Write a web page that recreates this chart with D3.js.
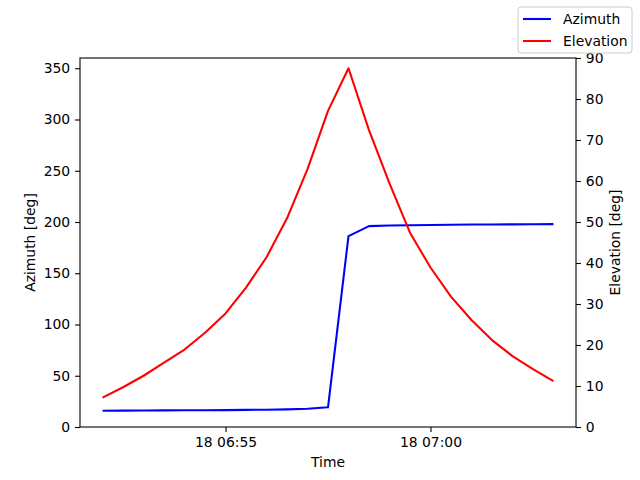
<!DOCTYPE html>
<html>
<head>
<meta charset="utf-8">
<script src="https://cdn.jsdelivr.net/npm/d3@7"></script>
<style>
  body { margin: 0; background: #fff; }
  text { font-family: "DejaVu Sans", sans-serif; }
</style>
</head>
<body>
<div id="chart"></div>
<script>
// pass over the station, one sample every 30 s
const times = ["06:52:00","06:52:30","06:53:00","06:53:30","06:54:00","06:54:30","06:55:00","06:55:30",
  "06:56:00","06:56:30","06:57:00","06:57:30","06:58:00","06:58:30","06:59:00","06:59:30",
  "07:00:00","07:00:30","07:01:00","07:01:30","07:02:00","07:02:30","07:03:00"];
const azimuth = [15.9,16.0,16.1,16.2,16.3,16.4,16.5,16.7,16.9,17.2,17.8,19.2,
  186.2,196.0,196.6,196.9,197.1,197.3,197.5,197.6,197.7,197.8,197.9];
const elevation = [7.15,9.7,12.5,15.7,18.9,23.0,27.7,34.0,41.4,50.9,62.9,77.1,
  87.5,72.4,59.4,47.4,38.9,31.8,26.1,21.2,17.3,14.1,11.2];
const azTicks = [0,50,100,150,200,250,300,350];
const elTicks = [0,10,20,30,40,50,60,70,80,90];
const seriesNames = ["Azimuth","Elevation"];
const seriesColors = ["blue","red"];

const width = 640, height = 480;
const margin = {top: 58, right: 64, bottom: 53, left: 80};

const parse = d3.utcParse("%Y-%m-%d %H:%M:%S");
const dates = times.map(t => parse("2021-03-18 " + t));

const svg = d3.select("#chart").append("svg")
  .attr("width", width).attr("height", height)
  .attr("viewBox", [0, 0, width, height]);

// matplotlib style 5% margin on x
const span = dates[dates.length - 1] - dates[0];
const x = d3.scaleUtc()
  .domain([new Date(+dates[0] - span * 0.05), new Date(+dates[dates.length - 1] + span * 0.05)])
  .range([margin.left, width - margin.right]);

const yAz = d3.scaleLinear().domain([0, 360]).range([height - margin.bottom, margin.top]);
const yEl = d3.scaleLinear().domain([0, 90]).range([height - margin.bottom, margin.top]);

const fs = "13.9px";

function styleAxis(g) {
  g.select(".domain").remove();
  g.selectAll(".tick line").attr("stroke", "#000").attr("stroke-width", 1.1);
  g.selectAll(".tick text").attr("font-size", fs).attr("fill", "#000")
    .attr("font-family", "DejaVu Sans, sans-serif");
}

svg.append("g")
  .attr("transform", `translate(0,${height - margin.bottom})`)
  .call(d3.axisBottom(x).ticks(d3.utcMinute.every(5)).tickFormat(d3.utcFormat("%d %H:%M"))
    .tickSize(4.9).tickPadding(4.9))
  .call(styleAxis);

svg.append("g")
  .attr("transform", `translate(${margin.left},0)`)
  .call(d3.axisLeft(yAz).tickValues(azTicks).tickSize(4.9).tickPadding(4.9))
  .call(styleAxis);

svg.append("g")
  .attr("transform", `translate(${width - margin.right},0)`)
  .call(d3.axisRight(yEl).tickValues(elTicks).tickSize(4.9).tickPadding(4.9))
  .call(styleAxis);

// lines
const azLine = d3.line().x((d, i) => x(dates[i])).y(d => yAz(d));
const elLine = d3.line().x((d, i) => x(dates[i])).y(d => yEl(d));

svg.append("path").datum(azimuth)
  .attr("d", azLine).attr("fill", "none")
  .attr("stroke", seriesColors[0]).attr("stroke-width", 2.08).attr("stroke-linejoin", "round");

svg.append("path").datum(elevation)
  .attr("d", elLine).attr("fill", "none")
  .attr("stroke", seriesColors[1]).attr("stroke-width", 2.08).attr("stroke-linejoin", "round");

// frame
svg.append("rect")
  .attr("x", margin.left).attr("y", margin.top)
  .attr("width", width - margin.left - margin.right)
  .attr("height", height - margin.top - margin.bottom)
  .attr("fill", "none").attr("stroke", "#000").attr("stroke-width", 1.1);

// axis labels
svg.append("text")
  .attr("x", (margin.left + width - margin.right) / 2).attr("y", 467)
  .attr("text-anchor", "middle").attr("font-size", fs).text("Time");

svg.append("text")
  .attr("transform", `translate(35,${(margin.top + height - margin.bottom) / 2}) rotate(-90)`)
  .attr("text-anchor", "middle").attr("font-size", fs).text("Azimuth [deg]");

svg.append("text")
  .attr("transform", `translate(620,${(margin.top + height - margin.bottom) / 2}) rotate(-90)`)
  .attr("text-anchor", "middle").attr("font-size", fs).text("Elevation [deg]");

// legend
const lg = svg.append("g").attr("transform", "translate(518,7)");
lg.append("rect")
  .attr("width", 114).attr("height", 46).attr("rx", 3)
  .attr("fill", "#fff").attr("fill-opacity", 0.8)
  .attr("stroke", "#ccc").attr("stroke-width", 1);

lg.selectAll("g.item")
  .data(seriesNames)
  .join("g")
  .attr("class", "item")
  .attr("transform", (d, i) => `translate(0,${12 + i * 22})`)
  .each(function (d, i) {
    const g = d3.select(this);
    g.append("line").attr("x1", 5).attr("x2", 33).attr("y1", 0).attr("y2", 0)
      .attr("stroke", seriesColors[i]).attr("stroke-width", 2.08);
    g.append("text").attr("x", 45).attr("y", 5).attr("font-size", fs).text(d);
  });
</script>
</body>
</html>
